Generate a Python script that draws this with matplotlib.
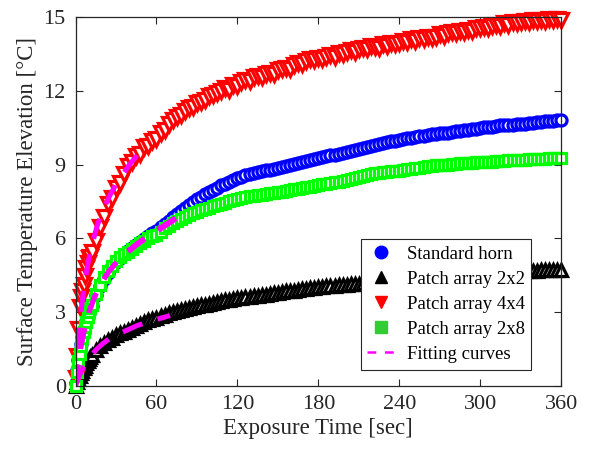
import numpy as np
import matplotlib
matplotlib.use("Agg")
import matplotlib.pyplot as plt
from matplotlib.lines import Line2D

plt.rcParams['font.family'] = ['Liberation Serif', 'DejaVu Serif']
plt.rcParams['mathtext.fontset'] = 'stix'

# ---------------- data ----------------
time_s = list(range(0, 12)) + list(range(12, 361, 3))

standard_horn = [
    0.10, 0.65, 1.05, 1.40, 1.70, 1.98, 2.20, 2.42, 2.62, 2.80, 2.96, 3.12,
    3.25, 3.70, 4.05, 4.35, 4.60, 4.85, 5.05, 5.20, 5.35, 5.48, 5.60, 5.73, 5.85, 5.98, 6.10, 6.20,
    6.30, 6.45, 6.57, 6.72, 6.88, 7.00, 7.12, 7.24, 7.35, 7.47, 7.58, 7.68, 7.80, 7.88, 7.97, 8.06,
    8.15, 8.22, 8.30, 8.38, 8.45, 8.50, 8.56, 8.61, 8.65, 8.70, 8.73, 8.76, 8.79, 8.82, 8.85, 8.89,
    8.93, 8.97, 9.01, 9.05, 9.09, 9.13, 9.17, 9.21, 9.25, 9.29, 9.33, 9.37, 9.41, 9.45, 9.49, 9.52,
    9.57, 9.61, 9.65, 9.69, 9.73, 9.77, 9.80, 9.84, 9.88, 9.91, 9.95, 9.98, 10.00, 10.04, 10.07, 10.10,
    10.13, 10.16, 10.18, 10.21, 10.24, 10.26, 10.28, 10.30, 10.30, 10.32, 10.35, 10.37, 10.40, 10.42, 10.44, 10.46,
    10.50, 10.52, 10.54, 10.55, 10.58, 10.60, 10.61, 10.62, 10.63, 10.64, 10.65, 10.67, 10.69, 10.70, 10.72, 10.74,
    10.76, 10.77, 10.79, 10.80, 10.82,
]

patch_2x2 = [
    0.00, 0.15, 0.28, 0.40, 0.50, 0.60, 0.70, 0.80, 0.90, 1.00, 1.08, 1.17,
    1.25, 1.45, 1.60, 1.75, 1.85, 1.95, 2.05, 2.12, 2.20, 2.27, 2.35, 2.42, 2.50, 2.58, 2.65, 2.70,
    2.75, 2.82, 2.88, 2.94, 3.00, 3.04, 3.08, 3.12, 3.15, 3.19, 3.23, 3.27, 3.30, 3.34, 3.38, 3.42,
    3.45, 3.48, 3.50, 3.53, 3.55, 3.57, 3.59, 3.61, 3.63, 3.65, 3.68, 3.70, 3.73, 3.75, 3.78, 3.80,
    3.83, 3.85, 3.87, 3.90, 3.92, 3.94, 3.96, 3.98, 4.00, 4.02, 4.04, 4.05, 4.07, 4.08, 4.10, 4.11,
    4.12, 4.14, 4.15, 4.17, 4.18, 4.20, 4.21, 4.23, 4.25, 4.26, 4.27, 4.29, 4.30, 4.32, 4.33, 4.35,
    4.36, 4.38, 4.39, 4.41, 4.42, 4.43, 4.45, 4.46, 4.47, 4.48, 4.49, 4.50, 4.51, 4.52, 4.53, 4.54,
    4.55, 4.56, 4.57, 4.58, 4.59, 4.60, 4.61, 4.62, 4.63, 4.64, 4.65, 4.66, 4.66, 4.67, 4.68, 4.69,
    4.70, 4.70, 4.71, 4.71, 4.72,
]

patch_4x4 = [
    0.30, 1.20, 2.30, 3.20, 3.60, 3.85, 4.10, 4.45, 4.80, 5.00, 5.20, 5.25,
    5.45, 5.90, 6.45, 6.85, 7.40, 7.65, 8.05, 8.25, 8.60, 8.95, 9.10, 9.35, 9.45, 9.70, 9.75, 9.95,
    10.05, 10.30, 10.40, 10.65, 10.80, 10.95, 11.00, 11.20, 11.30, 11.35, 11.50, 11.55, 11.65, 11.80, 11.85, 11.90,
    12.00, 12.10, 12.05, 12.25, 12.20, 12.35, 12.45, 12.40, 12.55, 12.60, 12.55, 12.70, 12.75, 12.70, 12.85, 12.90,
    12.95, 12.90, 13.05, 13.15, 13.10, 13.20, 13.30, 13.25, 13.35, 13.30, 13.40, 13.45, 13.40, 13.55, 13.50, 13.60,
    13.65, 13.60, 13.70, 13.75, 13.70, 13.85, 13.80, 13.75, 13.90, 13.85, 13.95, 13.90, 13.95, 14.05, 14.00, 14.10,
    14.05, 14.15, 14.10, 14.20, 14.15, 14.20, 14.30, 14.25, 14.35, 14.40, 14.35, 14.45, 14.40, 14.50, 14.45, 14.55,
    14.55, 14.60, 14.55, 14.65, 14.70, 14.65, 14.75, 14.70, 14.80, 14.75, 14.80, 14.85, 14.80, 14.90, 14.85, 14.90,
    14.85, 14.95, 14.90, 14.95, 14.90,
]

patch_2x8 = [
    0.00, 0.55, 0.98, 1.30, 1.62, 1.95, 2.20, 2.40, 2.60, 2.80, 2.98, 3.15,
    3.30, 3.72, 4.10, 4.40, 4.65, 4.88, 5.08, 5.22, 5.35, 5.45, 5.55, 5.68, 5.80, 5.90, 6.00, 6.08,
    6.15, 6.25, 6.40, 6.50, 6.60, 6.70, 6.80, 6.88, 6.95, 7.02, 7.08, 7.14, 7.20, 7.25, 7.30, 7.35,
    7.40, 7.45, 7.50, 7.55, 7.60, 7.64, 7.67, 7.70, 7.73, 7.75, 7.78, 7.80, 7.83, 7.85, 7.87, 7.90,
    7.93, 7.96, 7.99, 8.02, 8.05, 8.08, 8.10, 8.13, 8.16, 8.20, 8.22, 8.25, 8.28, 8.31, 8.34, 8.37,
    8.40, 8.45, 8.50, 8.55, 8.58, 8.61, 8.64, 8.66, 8.69, 8.71, 8.73, 8.75, 8.75, 8.78, 8.80, 8.83,
    8.86, 8.88, 8.90, 8.93, 8.95, 8.97, 8.98, 8.99, 9.00, 9.02, 9.03, 9.05, 9.06, 9.07, 9.08, 9.09,
    9.10, 9.11, 9.12, 9.12, 9.13, 9.15, 9.16, 9.17, 9.18, 9.18, 9.19, 9.20, 9.21, 9.22, 9.23, 9.24,
    9.24, 9.25, 9.25, 9.26, 9.27,
]

# fitting curves
fit_4x4_t = [0, 1, 2, 3, 4, 6, 8, 10, 13, 16, 20, 25, 30, 35, 40, 46]
fit_4x4_y = [0.0, 1.0, 1.8, 2.5, 3.0, 3.9, 4.6, 5.2, 5.9, 6.5, 7.1, 7.7, 8.2, 8.6, 9.0, 9.4]

fit_horn_t = [0, 2, 4, 6, 8, 10, 14, 18, 24, 30, 38, 46, 55, 65, 76]
fit_horn_y = [0.0, 0.9, 1.6, 2.15, 2.6, 3.0, 3.6, 4.05, 4.6, 5.0, 5.45, 5.8, 6.15, 6.5, 6.9]

fit_2x8_t = [0, 2, 4, 6, 8, 10, 14, 18, 24, 30, 38, 46, 55, 65, 76]
fit_2x8_y = [0.0, 0.9, 1.6, 2.15, 2.6, 3.0, 3.6, 4.05, 4.6, 5.0, 5.4, 5.75, 6.1, 6.45, 6.85]

fit_2x2_t = [0, 2, 4, 6, 9, 12, 16, 20, 25, 30, 38, 46, 55, 62, 70]
fit_2x2_y = [0.0, 0.3, 0.55, 0.75, 1.0, 1.25, 1.5, 1.7, 1.9, 2.05, 2.25, 2.45, 2.62, 2.72, 2.85]

series_labels = ["Standard horn", "Patch array 2x2", "Patch array 4x4", "Patch array 2x8"]
fit_label = "Fitting curves"
x_ticks = [0, 60, 120, 180, 240, 300, 360]
y_ticks = [0, 3, 6, 9, 12, 15]

# ---------------- figure ----------------
fig = plt.figure(figsize=(5.95, 4.5), dpi=100)
ax = fig.add_axes([0.127, 0.1433, 0.816, 0.8183])

common = dict(linestyle='none', mfc='white', clip_on=False)
ax.plot(time_s, standard_horn, marker='o', ms=8.0, mew=2.3, mec='#0000ff', zorder=2, **common)
ax.plot(time_s, patch_2x2, marker='^', ms=8.5, mew=2.3, mec='black', zorder=2, **common)
ax.plot(time_s, patch_4x4, marker='v', ms=9.5, mew=2.3, mec='#ff0000', zorder=2, **common)
ax.plot(time_s, patch_2x8, marker='s', ms=7.0, mew=2.3, mec='#00ff00', zorder=2.5, **common)

fit_kw = dict(color='#ff00ff', lw=3.6, dashes=(4.2, 3.2), dash_capstyle='butt', zorder=3)
ax.plot(fit_4x4_t, fit_4x4_y, **fit_kw)
ax.plot(fit_horn_t, fit_horn_y, **fit_kw)
ax.plot(fit_2x8_t, fit_2x8_y, **fit_kw)
ax.plot(fit_2x2_t, fit_2x2_y, **fit_kw)

ax.set_xlim(0, 360)
ax.set_ylim(0, 15)
ax.set_xticks(x_ticks)
ax.set_yticks(y_ticks)
ax.tick_params(direction='in', length=5, width=0.8, top=True, right=True,
               labelsize=16, colors='#262626', pad=7)
for sp in ax.spines.values():
    sp.set_linewidth(0.9)
    sp.set_color('#262626')
    sp.set_zorder(4)

ax.set_xlabel("Exposure Time [sec]", fontsize=16.5, color='#262626', labelpad=3)
ax.set_ylabel("Surface Temperature Elevation [°C]", fontsize=16.5, color='#262626', labelpad=4)

handles = [
    Line2D([], [], ls='none', marker='o', ms=9, mfc='#0000ff', mec='#0000ff'),
    Line2D([], [], ls='none', marker='^', ms=9, mfc='black', mec='black'),
    Line2D([], [], ls='none', marker='v', ms=9, mfc='#ff0000', mec='#ff0000'),
    Line2D([], [], ls='none', marker='s', ms=8.5, mfc='#32cd32', mec='#32cd32'),
    Line2D([], [], color='#ff00ff', lw=1.8, dashes=(3.5, 3.5)),
]
leg = ax.legend(handles, series_labels + [fit_label], loc='upper left',
                bbox_to_anchor=(0.587, 0.397), fontsize=13.5, frameon=True,
                fancybox=False, edgecolor='#262626', framealpha=1,
                handlelength=1.5, handletextpad=0.6, labelspacing=0.42,
                borderpad=0.35, borderaxespad=0)
leg.get_frame().set_linewidth(0.8)
leg.set_zorder(5)

fig.savefig("out.png", dpi=100)
